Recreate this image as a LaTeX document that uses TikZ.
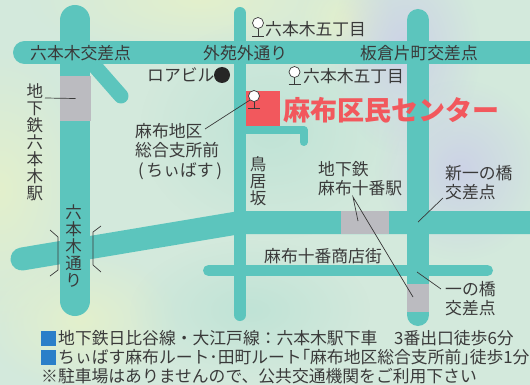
\documentclass[tikz,border=0pt]{standalone}
\usepackage{fontspec}
\setmainfont{Noto Sans CJK JP}
\usetikzlibrary{fadings}
\definecolor{bgbase}{HTML}{D3E9DC}
\definecolor{lav}{HTML}{CCD2E6}
\definecolor{yel}{HTML}{E3F0CC}
\definecolor{mint}{HTML}{C0E3D6}
\definecolor{road}{HTML}{5CC5BD}
\definecolor{stn}{HTML}{BBBBC0}
\definecolor{ink}{HTML}{3A3A3A}
\definecolor{accent}{HTML}{F2585D}
\definecolor{sq}{HTML}{2A7FC9}
\tikzfading[name=blob, inner color=transparent!0, outer color=transparent!100]
\tikzset{
  roadline/.style={draw=road, line cap=round, line join=round},
  lab/.style={text=ink, inner sep=0pt, font=\fontsize{16.8}{19.5}\selectfont, align=left},
  vlab/.style={text=ink, inner sep=0pt, font=\fontsize{16.5}{17}\selectfont, align=center},
  note/.style={text=ink, inner sep=0pt, anchor=west, font=\fontsize{16.8}{19}\selectfont},
  leader/.style={draw=ink, line width=0.7pt},
  pinhead/.style={circle, draw=ink, fill=white, line width=0.7pt, inner sep=0pt, minimum size=11pt},
  stnbox/.style={fill=stn},
  bullet/.style={fill=sq, inner sep=0pt, minimum width=15pt, minimum height=15pt},
  blobl/.style={path fading=blob, fill=lav},
  bloby/.style={path fading=blob, fill=yel},
  blobm/.style={path fading=blob, fill=mint},
}
\begin{document}
\begin{tikzpicture}[x=1pt,y=-1pt]
\useasboundingbox (0,0) rectangle (530,385);
% background
\fill[bgbase] (0,0) rectangle (530,385);
\fill[bloby] (200,0) ellipse (170 and 60);
\fill[bloby] (0,190) ellipse (90 and 140);
\fill[bloby] (80,320) ellipse (100 and 70);
\fill[bloby] (345,20) ellipse (50 and 50);
\fill[blobm] (270,130) ellipse (130 and 110);
\fill[blobm] (250,310) ellipse (120 and 70);
\fill[blobl] (405,50) ellipse (75 and 105);
\fill[blobl] (460,170) ellipse (85 and 90);
% roads
\draw[roadline, line width=30pt] (75,20) -- (75,301);
\draw[roadline, line width=23pt] (24.5,52.5) -- (541,52.5);
\draw[roadline, line width=15pt] (85,55) -- (121,96);
\draw[roadline, line width=12pt] (240,13) -- (240,315);
\draw[roadline, line width=22pt] (418,20) -- (418,315);
\draw[roadline, line width=23pt] (22,259) -- (240,222.5) -- (541,222.5);
\draw[roadline, line width=11pt] (208.5,270.5) -- (487.5,270.5);
\draw[roadline, line width=8pt] (246,130) -- (303.5,130) -- (303.5,142);
% buildings and stations
\fill[accent] (246,91) rectangle (280,126);
\node[stnbox, minimum width=31pt, minimum height=45pt, inner sep=0pt] (stnA) at (75.5,98.5) {};
\node[stnbox, minimum width=48pt, minimum height=23pt, inner sep=0pt] (stnB) at (365,222.5) {};
\node[stnbox, minimum width=22pt, minimum height=28pt, inner sep=0pt] (stnC) at (418,298) {};
% stops
\node[pinhead] (pinA) at (258,23) {};
\coordinate (pinAb) at (258,36);
\draw[leader] (pinA.south) -- (pinAb);
\draw[leader] (252,36) -- (264,36);
\node[pinhead] (pinB) at (254,96) {};
\coordinate (pinBb) at (254,108);
\draw[leader] (pinB.south) -- (pinBb);
\draw[leader] (248,108) -- (260,108);
\node[pinhead] (pinC) at (294.5,72) {};
\coordinate (pinCb) at (294.5,84);
\draw[leader] (pinC.south) -- (pinCb);
\draw[leader] (288.5,84) -- (300.5,84);
\node[circle, fill=black!85, inner sep=0pt, minimum size=16pt] (dot) at (222,75) {};
% labels
\node[lab, anchor=west] (l1) at (30,53) {六本木交差点};
\node[lab, anchor=west] (l2) at (203,53) {外苑外通り};
\node[lab, anchor=west] (l3) at (360,53) {板倉片町交差点};
\node[lab, anchor=west] (l4) at (265,29) {六本木五丁目};
\node[lab, anchor=west] (l5) at (303,76) {六本木五丁目};
\node[lab, anchor=west] (l6) at (147,75) {ロアビル};
\node[lab, anchor=north west] (l7) at (135,123) {麻布地区\\総合支所前\\\,(\,ちぃばす\,)};
\node[lab, anchor=north west] (l8) at (318,161) {地下鉄\\麻布十番駅};
\node[lab, anchor=north west] (l9) at (445,165) {新一の橋\\交差点};
\node[lab, anchor=north west] (l10) at (445,281) {一の橋\\交差点};
\node[lab, anchor=west] (l11) at (264,256) {麻布十番商店街};
\node[vlab, anchor=north] (v1) at (35,83) {地\\下\\鉄\\六\\本\\木\\駅};
\node[vlab, anchor=north] (v2) at (73.5,205) {六\\本\\木\\通\\り};
\node[vlab, anchor=north] (v3) at (258,156) {鳥\\居\\坂};
\node[inner sep=0pt, anchor=west, text=accent, font=\fontsize{27}{30}\selectfont\bfseries] (title) at (283,110) {麻布区民センター};
% leaders
\coordinate (a1) at (45,98);
\draw[leader] (a1) -- (stnA.center);
\coordinate (a2) at (205,129);
\draw[leader] (a2) -- (pinB.south west);
\coordinate (a3) at (353,197);
\coordinate (a4) at (358,221);
\coordinate (a5) at (413,297);
\draw[leader] (a4) -- (a3) -- (a5);
\coordinate (a6) at (443,198);
\coordinate (a7) at (418,222);
\draw[leader] (a6) -- (a7);
\coordinate (a8) at (441,289);
\coordinate (a9) at (417,272);
\draw[leader] (a8) -- (a9);
\draw[leader] (50,230) -- (58,237) -- (58,270) -- (50,276);
\draw[leader] (101,226) -- (93,232) -- (93,265) -- (101,272);
% notes
\node[bullet] (b1) at (48.5,338.5) {};
\node[bullet] (b2) at (48.5,357.5) {};
\node[note] (n1) at (58,338.5) {地下鉄日比谷線・大江戸線：六本木駅下車　3番出口徒歩6分};
\node[note] (n2) at (58,357.5) {ちぃばす麻布ルート･田町ルート｢麻布地区総合支所前｣徒歩1分};
\node[note] (n3) at (41,376) {※駐車場はありませんので、公共交通機関をご利用下さい};
\end{tikzpicture}
\end{document}
